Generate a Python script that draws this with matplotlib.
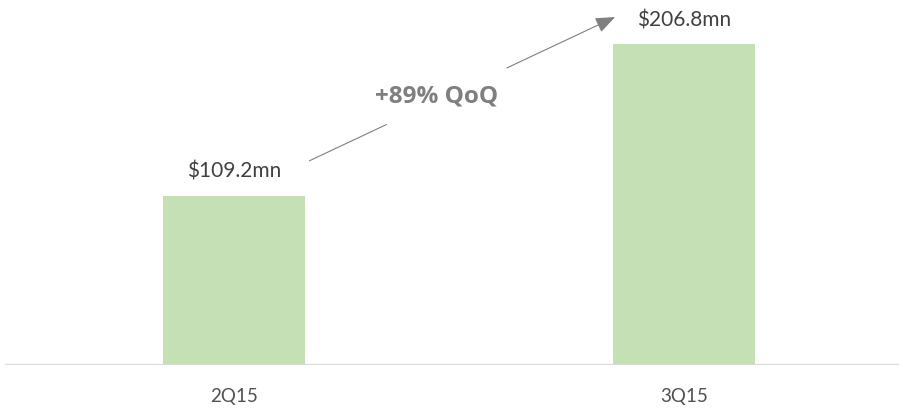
import matplotlib
matplotlib.use("Agg")
import matplotlib.pyplot as plt

plt.rcParams['font.family'] = ['Lato', 'DejaVu Sans']

# 数据
quarters = ["2Q15", "3Q15"]
revenue = [109.2, 206.8]          # 单位: 百万美元
value_labels = ["$109.2mn", "$206.8mn"]
growth_label = "+89% QoQ"

bar_color = "#c5e0b4"
grey = "#7f7f7f"
text_color = "#404040"

fig = plt.figure(figsize=(8.99, 4.09), dpi=100)
ax = fig.add_axes([5 / 899, 44 / 409, 894 / 899, 365 / 409])

x = list(range(len(quarters)))
bars = ax.bar(x, revenue, width=0.316, color=bar_color, zorder=2)

ax.set_xlim(-0.509, 1.478)
ax.set_ylim(0, 235.5)

# 柱顶数值
for xi, v, lab in zip(x, revenue, value_labels):
    ax.text(xi, v + 15.5, lab, ha='center', va='center', fontsize=15, color=text_color)

# 类别标签
for xi, q in zip(x, quarters):
    ax.text(xi, -20.6, q, ha='center', va='center', fontsize=13.5, color="#505050", clip_on=False)

# 底线
ax.axhline(0, color="#d9d9d9", lw=1.6, zorder=3)
for s in ax.spines.values():
    s.set_visible(False)
ax.set_xticks([])
ax.set_yticks([])

# 增长箭头（中间断开放文字）
x0, y0 = x[0] + 0.162, revenue[0] + 21.8
x1, y1 = x[1] - 0.153, revenue[1] + 17.7


def pt(t):
    return (x0 + (x1 - x0) * t, y0 + (y1 - y0) * t)


ax.annotate("", xy=pt(0.266), xytext=pt(0.0),
            arrowprops=dict(arrowstyle='-', color=grey, lw=0.8))
ax.annotate("", xy=pt(1.0), xytext=pt(0.649),
            arrowprops=dict(arrowstyle='-|>,head_length=1.0,head_width=0.4', color=grey,
                            lw=0.8, mutation_scale=12, shrinkA=0, shrinkB=0))
ax.text((x0 + x1) / 2 - 0.055, (y0 + y1) / 2 - 4.5, growth_label, ha='center', va='center',
        fontsize=17.5, fontweight='bold', color=grey, family=['Open Sans', 'DejaVu Sans'])

plt.savefig("out.png", dpi=100)
